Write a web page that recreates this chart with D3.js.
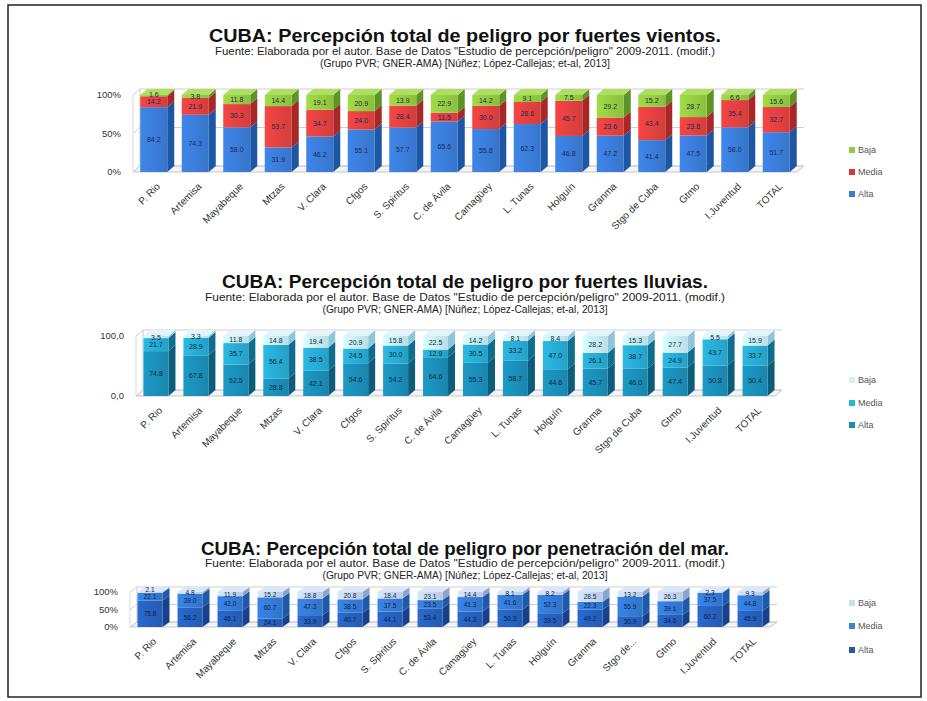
<!DOCTYPE html>
<html><head><meta charset="utf-8">
<script src="https://cdn.jsdelivr.net/npm/d3@7"></script>
<style>
html,body{margin:0;padding:0;background:#fff;}
svg{display:block;font-family:"Liberation Sans",Arial,sans-serif;}
</style></head>
<body>
<svg id="chart" width="927" height="701"></svg>
<script>
// ---------- DATA ----------
const categories = ["P. Rio","Artemisa","Mayabeque","Mtzas","V. Clara","Cfgos","S. Spiritus","C. de Ávila","Camagüey","L. Tunas","Holguín","Granma","Stgo de Cuba","Gtmo","I.Juventud","TOTAL"];
const categories3 = ["P. Rio","Artemisa","Mayabeque","Mtzas","V. Clara","Cfgos","S. Spiritus","C. de Ávila","Camagüey","L. Tunas","Holguín","Granma","Stgo de...","Gtmo","I.Juventud","TOTAL"];
const seriesNames = ["Alta","Media","Baja"];

// Chart 1: fuertes vientos
const vientosAlta  = [84.2,74.3,58.0,31.9,46.2,55.1,57.7,65.6,55.8,62.3,46.8,47.2,41.4,47.5,58.0,51.7];
const vientosMedia = [14.2,21.9,30.3,53.7,34.7,24.0,28.4,11.5,30.0,28.6,45.7,23.6,43.4,23.8,35.4,32.7];
const vientosBaja  = [1.6,3.8,11.8,14.4,19.1,20.9,13.9,22.9,14.2,9.1,7.5,29.2,15.2,28.7,6.6,15.6];

// Chart 2: fuertes lluvias
const lluviasAlta  = [74.8,67.8,52.5,28.8,42.1,54.6,54.2,64.6,55.3,58.7,44.6,45.7,46.0,47.4,50.8,50.4];
const lluviasMedia = [21.7,28.9,35.7,56.4,38.5,24.5,30.0,12.9,30.5,33.2,47.0,26.1,38.7,24.9,43.7,33.7];
const lluviasBaja  = [3.5,3.3,11.8,14.8,19.4,20.9,15.8,22.5,14.2,8.1,8.4,28.2,15.3,27.7,5.5,15.9];

// Chart 3: penetración del mar
const marAlta  = [75.8,56.2,46.1,24.1,33.9,40.7,44.1,53.4,44.3,50.3,39.5,49.2,30.9,34.6,60.2,45.9];
const marMedia = [22.1,39.0,42.0,60.7,47.3,38.5,37.5,23.5,41.3,41.6,52.3,22.3,55.9,39.1,37.5,44.8];
const marBaja  = [2.1,4.8,11.9,15.2,18.8,20.8,18.4,23.1,14.4,8.1,8.2,28.5,13.2,26.3,2.3,9.3];

const ticksPct = [0,50,100];
const tickLabelsPct = ["0%","50%","100%"];
const ticksNum = [0,100];
const tickLabelsNum = ["0,0","100,0"];

const titles = [
  "CUBA:  Percepción total de peligro por fuertes vientos.",
  "CUBA:  Percepción total  de peligro por  fuertes lluvias.",
  "CUBA:  Percepción total de peligro por penetración del mar."
];
const sub1 = "Fuente: Elaborada por el autor. Base de Datos \"Estudio de percepción/peligro\" 2009-2011.  (modif.)";
const sub2 = "(Grupo PVR; GNER-AMA) [Núñez; López-Callejas;   et-al, 2013]";

// ---------- DRAW ----------
const svg = d3.select("#chart");
svg.append("rect").attr("x",8).attr("y",5).attr("width",913).attr("height",692)
  .attr("fill","#fff").attr("stroke","#222").attr("stroke-width",1.5);

function drawChart(cfg){
  const g = svg.append("g");
  // titles
  g.append("text").attr("x",465).attr("y",cfg.titleY).attr("text-anchor","middle")
    .attr("font-size",17.5).attr("font-weight","bold").attr("fill","#111")
    .attr("textLength",cfg.titleW).attr("lengthAdjust","spacingAndGlyphs").text(cfg.title);
  g.append("text").attr("x",465).attr("y",cfg.titleY+cfg.subGap).attr("text-anchor","middle")
    .attr("font-size",10).attr("fill","#222")
    .attr("textLength",cfg.sub1W).attr("lengthAdjust","spacingAndGlyphs").text(sub1);
  g.append("text").attr("x",465).attr("y",cfg.titleY+cfg.subGap+12).attr("text-anchor","middle")
    .attr("font-size",10).attr("fill","#222")
    .attr("textLength",cfg.sub2W).attr("lengthAdjust","spacingAndGlyphs").text(sub2);

  const x = d3.scalePoint().domain(cfg.cats).range(cfg.xr).padding(0.5);
  const y = d3.scaleLinear().domain([0,100]).range(cfg.yr);
  const dx = cfg.dx, dy = cfg.dy, bw = cfg.bw;
  const x0 = cfg.xr[0], x1 = cfg.xr[1];

  // floor
  g.append("polygon").attr("points",[[x0,y(0)],[x0+dx,y(0)+dy],[x1+dx,y(0)+dy],[x1,y(0)]].map(p=>p.join(",")).join(" "))
    .attr("fill","#f4f4f4").attr("stroke","#c8c8c8").attr("stroke-width",1);
  // back wall grid lines
  cfg.ticks.forEach(t=>{
    g.append("line").attr("x1",x0+dx).attr("x2",x1+dx).attr("y1",y(t)+dy).attr("y2",y(t)+dy)
      .attr("stroke","#cfcfcf").attr("stroke-width",1);
    g.append("line").attr("x1",x0).attr("x2",x0+dx).attr("y1",y(t)).attr("y2",y(t)+dy)
      .attr("stroke","#cfcfcf").attr("stroke-width",1);
  });
  g.append("line").attr("x1",x0+dx).attr("x2",x0+dx).attr("y1",y(100)+dy).attr("y2",y(0)+dy)
    .attr("stroke","#c8c8c8");
  g.append("line").attr("x1",x0).attr("x2",x0).attr("y1",y(100)).attr("y2",y(0))
    .attr("stroke","#d8d8d8");
  // tick labels
  cfg.ticks.forEach((t,i)=>{
    g.append("text").attr("x",x0-12).attr("y",y(t)+3).attr("text-anchor","end")
      .attr("font-size",9.5).attr("fill","#333").text(cfg.tickLabels[i]);
  });

  // gradients
  const defs = svg.append("defs");
  cfg.front.forEach((col,k)=>{
    const gr = defs.append("linearGradient").attr("id",`${cfg.id}g${k}`).attr("x1","0").attr("x2","1").attr("y1","0").attr("y2","0");
    gr.append("stop").attr("offset","0%").attr("stop-color",d3.color(col).brighter(0.25));
    gr.append("stop").attr("offset","100%").attr("stop-color",d3.color(col).darker(0.15));
  });

  // bars
  cfg.cats.forEach((c,i)=>{
    const cx = x(c), xb = cx - bw/2;
    let acc = 0;
    const vals = [cfg.alta[i], cfg.media[i], cfg.baja[i]];
    const segs = vals.map((v,k)=>{ const s={k,v,b:acc,t:acc+v}; acc+=v; return s; });
    const total = acc;
    segs.forEach(s=>{
      const yt = y(s.t/total*100), yb = y(s.b/total*100);
      g.append("polygon").attr("points",[[xb+bw,yt],[xb+bw+dx,yt+dy],[xb+bw+dx,yb+dy],[xb+bw,yb]].map(p=>p.join(",")).join(" "))
        .attr("fill",cfg.side[s.k]);
      g.append("rect").attr("x",xb).attr("y",yt).attr("width",bw).attr("height",yb-yt)
        .attr("fill",`url(#${cfg.id}g${s.k})`);
    });
    const yTop = y(100);
    g.append("polygon").attr("points",[[xb,yTop],[xb+dx,yTop+dy],[xb+bw+dx,yTop+dy],[xb+bw,yTop]].map(p=>p.join(",")).join(" "))
      .attr("fill",cfg.topc);
    // labels (avoid overlaps in thin segments)
    let prevY = Infinity;
    segs.forEach(s=>{
      let ym = y((s.b+s.t)/2/total*100) + 2.5;
      if (prevY - ym < cfg.minGap) ym = prevY - cfg.minGap;
      prevY = ym;
      g.append("text").attr("x",cx).attr("y",ym).attr("text-anchor","middle")
        .attr("font-size",cfg.labelSize).attr("fill",cfg.labelColor).text(s.v.toFixed(1));
    });
    g.append("text").attr("transform",`translate(${cx+7},${y(0)+15}) rotate(-45)`)
      .attr("text-anchor","end").attr("font-size",10).attr("fill","#333").text(c);
  });

  // legend
  ["Baja","Media","Alta"].forEach((n,j)=>{
    const k = 2-j;
    const ly = cfg.legY[j];
    g.append("rect").attr("x",849).attr("y",ly-3).attr("width",6).attr("height",6).attr("fill",cfg.legend[k]);
    g.append("text").attr("x",858).attr("y",ly+3).attr("font-size",9).attr("fill","#555").text(n);
  });
}

drawChart({id:"c1", title:titles[0], titleY:42, subGap:13, titleW:512, sub1W:500, sub2W:290,
  cats:categories, alta:vientosAlta, media:vientosMedia, baja:vientosBaja,
  xr:[133,797], yr:[172,95], dx:7, dy:-6, bw:27,
  ticks:ticksPct, tickLabels:tickLabelsPct, labelSize:7, minGap:7.5,
  front:["#3a7bd6","#e0403e","#94c940"], side:["#1d56a3","#a82828","#5c9526"], topc:"#aede62",
  legend:["#3a7bd6","#d8363c","#94c940"], labelColor:"#1a2a55", legY:[150,172,194]});

drawChart({id:"c2", title:titles[1], titleY:288, subGap:13, titleW:486, sub1W:520, sub2W:285,
  cats:categories, alta:lluviasAlta, media:lluviasMedia, baja:lluviasBaja,
  xr:[136,775], yr:[396,336], dx:7, dy:-6, bw:25,
  ticks:ticksNum, tickLabels:tickLabelsNum, labelSize:7, minGap:7.5,
  front:["#1a8db6","#26aad1","#c6e9f5"], side:["#0c5c7c","#0f6e90","#8cc6d8"], topc:"#e2f4fa",
  legend:["#1a8db6","#2cb3d8","#d8eef6"], labelColor:"#0d2a40", legY:[380,403,425]});

drawChart({id:"c3", title:titles[2], titleY:555, subGap:12, titleW:528, sub1W:520, sub2W:285,
  cats:categories3, alta:marAlta, media:marMedia, baja:marBaja,
  xr:[130,770], yr:[627,592], dx:7, dy:-5, bw:25,
  ticks:ticksPct, tickLabels:tickLabelsPct, labelSize:6.5, minGap:7,
  front:["#2660bd","#3479d6","#c3d5ef"], side:["#17428a","#1d5aa8","#8aa6cf"], topc:"#dbe6f6",
  legend:["#2a55a8","#3b82d8","#ccdcf0"], labelColor:"#0d1f45", legY:[603,626,650]});
</script>
</body></html>
